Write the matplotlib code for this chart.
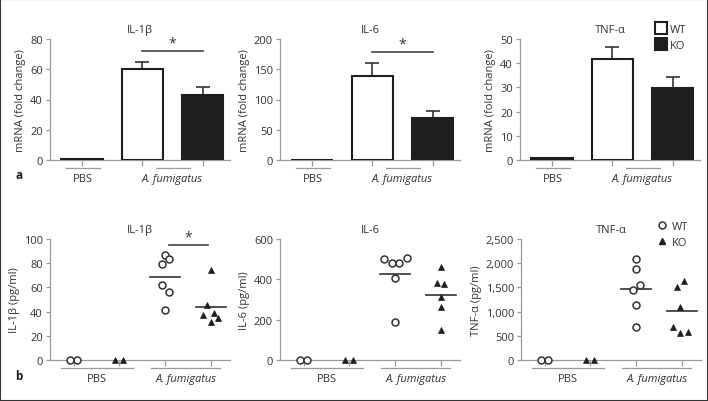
import matplotlib
matplotlib.use("Agg")
import matplotlib.pyplot as plt
from matplotlib.lines import Line2D
from matplotlib.patches import Rectangle

plt.rcParams["font.family"] = ["Open Sans", "DejaVu Sans"]

W, H = 708, 402
AXIS_GREY = "#9a9a9a"
TEXT = "#333333"
DARK = "#1e1e1e"
FS = 8

# ---- panel a: mRNA fold change (bars) ----
bar_titles = ["IL-1β", "IL-6", "TNF-α"]
bar_ymax = [80, 200, 50]
bar_yticks = [[0, 20, 40, 60, 80], [0, 50, 100, 150, 200], [0, 10, 20, 30, 40, 50]]
pbs_mean = [0.7, 0.8, 0.7]
wt_mean = [60.1, 138.6, 41.7]
wt_err = [4.9, 22.3, 4.9]
ko_mean = [43.2, 69.6, 29.8]
ko_err = [4.8, 11.9, 4.5]
bar_sig = [72, 179, None]

# ---- panel b: protein (dot plots) ----
dot_titles = ["IL-1β", "IL-6", "TNF-α"]
dot_ylabels = ["IL-1β (pg/ml)", "IL-6 (pg/ml)", "TNF-α (pg/ml)"]
dot_ymax = [100, 600, 2500]
dot_yticks = [[0, 20, 40, 60, 80, 100], [0, 200, 400, 600],
              [0, 500, 1000, 1500, 2000, 2500]]
dot_yticklabels = [None, None, ["0", "500", "1,000", "1,500", "2,000", "2,500"]]
pbs_wt = [[0, 0], [0, 0], [0, 0]]
pbs_ko = [[0, 0], [0, 0], [0, 0]]
af_wt = [[87, 83.5, 79.3, 62, 55.9, 41.6],
         [499, 479, 479, 504, 408, 190],
         [2086, 1890, 1548, 1443, 1141, 687]]
af_ko = [[74.4, 45.5, 39.1, 36.9, 34.4, 31.1],
         [460, 380, 378, 311, 263, 149],
         [1632, 1506, 1086, 687, 561, 582]]
af_wt_median = [68.3, 425, 1477]
af_ko_median = [43.8, 324, 1008]
dot_sig = [95, None, None]

# horizontal scatter of the points as drawn (group units)
pbs_jit = [-0.09, 0.08]
wt_jit = [[0, 0.09, -0.07, -0.07, 0.09, 0],
          [-0.24, -0.07, 0.09, 0.26, 0, 0],
          [0, 0, 0.09, -0.07, 0, 0]]
ko_jit = [[0, -0.09, 0.07, -0.18, 0.15, 0],
          [0, -0.09, 0.07, 0, 0, 0],
          [0.04, -0.11, -0.04, -0.2, -0.04, 0.13]]


def px_axes(fig, left, top, right, bottom):
    return fig.add_axes([left / W, 1 - bottom / H, (right - left) / W, (bottom - top) / H])


def style_axes(ax):
    for s in ["top", "right"]:
        ax.spines[s].set_visible(False)
    for s in ["left", "bottom"]:
        ax.spines[s].set_color(AXIS_GREY)
        ax.spines[s].set_linewidth(0.9)
    ax.tick_params(axis="both", colors=AXIS_GREY, labelcolor=TEXT, labelsize=FS,
                   width=0.9, length=3, pad=2)
    ax.tick_params(axis="x", length=4, labelbottom=False)


def group_label(ax, x0, x1, text, italic=False):
    tr = ax.get_xaxis_transform()
    ax.plot([x0, x1], [-0.066, -0.066], transform=tr, color=AXIS_GREY, lw=0.9, clip_on=False)
    ax.text((x0 + x1) / 2, -0.105, text, transform=tr, ha="center", va="top",
            fontsize=FS, color=TEXT, style="italic" if italic else "normal")


def sig_mark(ax, x0, x1, y, ymax):
    ax.plot([x0, x1], [y, y], color="#444444", lw=1.2, clip_on=False)
    ax.text((x0 + x1) / 2, y + ymax * 0.005, "*", ha="center", va="bottom",
            fontsize=10, color=TEXT, clip_on=False)


fig = plt.figure(figsize=(W / 100, H / 100), dpi=100)

lefts = [50, 280, 520]
for i in range(3):
    ax = px_axes(fig, lefts[i], 40, lefts[i] + 180, 161)
    style_axes(ax)
    xs = [0, 1, 2]
    ax.bar(xs, [pbs_mean[i], wt_mean[i], ko_mean[i]], width=0.68,
           color=["#ffffff", "#ffffff", DARK], edgecolor=DARK, linewidth=1.5, zorder=3)
    ax.errorbar([1, 2], [wt_mean[i], ko_mean[i]],
                yerr=[[0, 0], [wt_err[i], ko_err[i]]], fmt="none",
                ecolor="#333333", elinewidth=1.2, capsize=4.8, capthick=1.2, zorder=2)
    ax.set_xlim(-0.53, 2.45)
    ax.set_ylim(0, bar_ymax[i])
    ax.set_yticks(bar_yticks[i])
    ax.set_xticks(xs)
    ax.set_ylabel("mRNA (fold change)", fontsize=FS, color=TEXT, labelpad=3)
    ax.set_title(bar_titles[i], fontsize=FS, color=TEXT, pad=5)
    group_label(ax, -0.27, 0.29, "PBS")
    group_label(ax, 1.22, 1.78, "A. fumigatus", italic=True)
    if bar_sig[i] is not None:
        sig_mark(ax, 1, 2, bar_sig[i], bar_ymax[i])

fig.legend(handles=[Line2D([], [], ls="none", marker="s", ms=8, mfc="white", mec=DARK, mew=1.5),
                    Line2D([], [], ls="none", marker="s", ms=8, mfc=DARK, mec=DARK, mew=1.5)],
           labels=["WT", "KO"], loc="upper left", bbox_to_anchor=(650 / W, 1 - 19 / H),
           frameon=False, fontsize=FS, handlelength=0.9, handletextpad=0.4,
           labelspacing=0.45, borderpad=0, labelcolor=TEXT)

lefts_b = [50, 280, 521]
for i in range(3):
    ax = px_axes(fig, lefts_b[i], 240, lefts_b[i] + 180, 361)
    style_axes(ax)
    ax.set_xlim(-0.52, 3.42)
    ax.set_ylim(0, dot_ymax[i])
    ax.set_yticks(dot_yticks[i])
    if dot_yticklabels[i] is not None:
        ax.set_yticklabels(dot_yticklabels[i])
    ax.set_xticks([0, 1, 2, 3])
    ax.set_ylabel(dot_ylabels[i], fontsize=FS, color=TEXT, labelpad=3)
    ax.set_title(dot_titles[i], fontsize=FS, color=TEXT, pad=5)

    circ = dict(ls="none", marker="o", ms=5, mfc="white", mec="#333333", mew=1.1,
                clip_on=False, zorder=4)
    tri = dict(ls="none", marker="^", ms=4.5, mfc=DARK, mec=DARK, mew=0.5,
               clip_on=False, zorder=4)
    ax.plot([0 + j for j in pbs_jit], pbs_wt[i], **circ)
    ax.plot([1 + j for j in pbs_jit], pbs_ko[i], **tri)
    ax.plot([2 + j for j in wt_jit[i]], af_wt[i], **circ)
    ax.plot([3 + j for j in ko_jit[i]], af_ko[i], **tri)
    ax.plot([2 - 0.33, 2 + 0.33], [af_wt_median[i]] * 2, color="#333333", lw=1.2, zorder=3)
    ax.plot([3 - 0.33, 3 + 0.33], [af_ko_median[i]] * 2, color="#333333", lw=1.2, zorder=3)

    group_label(ax, -0.28, 1.3, "PBS")
    group_label(ax, 1.7, 3.2, "A. fumigatus", italic=True)
    if dot_sig[i] is not None:
        sig_mark(ax, 2.08, 2.93, dot_sig[i], dot_ymax[i])

fig.legend(handles=[Line2D([], [], ls="none", marker="o", ms=5, mfc="white", mec="#333333", mew=1.1),
                    Line2D([], [], ls="none", marker="^", ms=4.5, mfc=DARK, mec=DARK)],
           labels=["WT", "KO"], loc="upper left", bbox_to_anchor=(652 / W, 1 - 216 / H),
           frameon=False, fontsize=FS, handlelength=0.8, handletextpad=0.5,
           labelspacing=0.45, borderpad=0, labelcolor=TEXT)

fig.text(15 / W, 1 - 176 / H, "a", fontsize=8.5, fontweight="bold", color=DARK, va="center")
fig.text(15 / W, 1 - 377 / H, "b", fontsize=8.5, fontweight="bold", color=DARK, va="center")

fig.add_artist(Rectangle((0, 0), 1, 1, transform=fig.transFigure, fill=False,
                         edgecolor="#333333", linewidth=1.5))

fig.savefig("out.png", dpi=100)
